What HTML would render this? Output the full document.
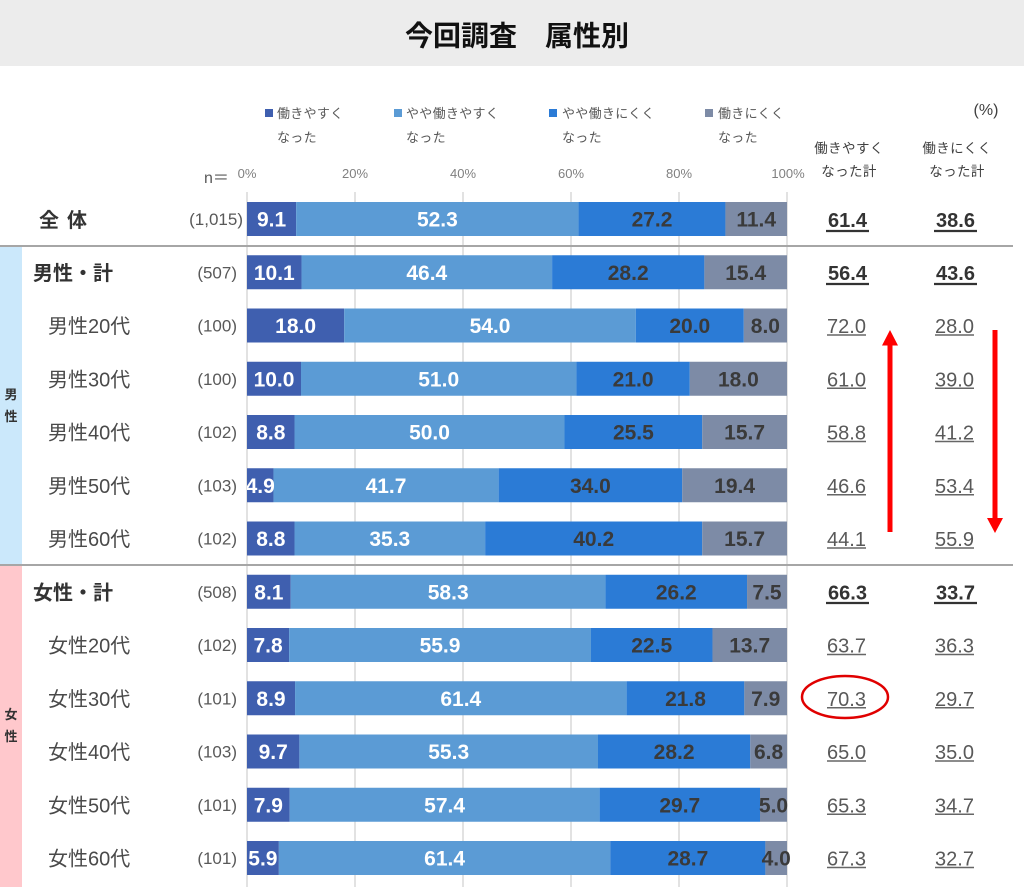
<!DOCTYPE html>
<html><head><meta charset="utf-8"><style>
html,body{margin:0;padding:0;background:#fff;}
svg{display:block;}
.cj{font-family:"Liberation Sans","Noto Sans CJK JP",sans-serif;}
.v{font-family:"Liberation Sans",sans-serif;font-weight:bold;font-size:21px;text-anchor:middle;}
.w{fill:#fff;}
.d{fill:#3a3a3a;}
.lab{font-family:"Liberation Sans","Noto Sans CJK JP",sans-serif;font-size:20px;fill:#4a4a4a;}
.labb{font-family:"Liberation Sans","Noto Sans CJK JP",sans-serif;font-size:20px;font-weight:bold;fill:#333;}
.n{font-family:"Liberation Sans","Noto Sans CJK JP",sans-serif;font-size:17px;fill:#595959;text-anchor:end;}
.r{font-family:"Liberation Sans",sans-serif;font-size:20px;fill:#595959;text-anchor:middle;}
.rb{font-family:"Liberation Sans",sans-serif;font-size:20px;font-weight:bold;fill:#333;text-anchor:middle;}
.t{font-family:"Liberation Sans",sans-serif;font-size:13px;fill:#808080;text-anchor:middle;}
.lg{font-family:"Liberation Sans","Noto Sans CJK JP",sans-serif;font-size:13px;fill:#595959;letter-spacing:0.3px;}
.hd{font-family:"Liberation Sans","Noto Sans CJK JP",sans-serif;font-size:13.5px;fill:#404040;text-anchor:middle;letter-spacing:0.4px;}
</style></head><body>
<svg width="1024" height="887" viewBox="0 0 1024 887" xmlns="http://www.w3.org/2000/svg">
<defs><clipPath id="cp"><rect x="247" y="190" width="600" height="700"/></clipPath></defs>
<!-- title band -->
<rect x="0" y="0" width="1024" height="66" fill="#ececec"/>
<text x="517" y="45.5" class="cj" font-size="28" font-weight="bold" text-anchor="middle" fill="#111">今回調査　属性別</text>

<!-- legend -->
<rect x="265" y="109" width="8" height="8" fill="#3f5faf"/>
<text x="277" y="118" class="lg">働きやすく</text>
<text x="277" y="142" class="lg">なった</text>
<rect x="394" y="109" width="8" height="8" fill="#5b9bd5"/>
<text x="406" y="118" class="lg">やや働きやすく</text>
<text x="406" y="142" class="lg">なった</text>
<rect x="549" y="109" width="8" height="8" fill="#2b7bd6"/>
<text x="562" y="118" class="lg">やや働きにくく</text>
<text x="562" y="142" class="lg">なった</text>
<rect x="705" y="109" width="8" height="8" fill="#7d8ba6"/>
<text x="718" y="118" class="lg">働きにくく</text>
<text x="718" y="142" class="lg">なった</text>

<text x="986" y="115" font-family="Liberation Sans,sans-serif" font-size="16" fill="#404040" text-anchor="middle">(%)</text>
<text x="849" y="153" class="hd">働きやすく</text>
<text x="849" y="176" class="hd">なった計</text>
<text x="957" y="153" class="hd">働きにくく</text>
<text x="957" y="176" class="hd">なった計</text>

<!-- ticks -->
<text x="204" y="183" class="cj" font-size="16" fill="#595959">n＝</text>
<text x="247" y="178" class="t">0%</text>
<text x="355" y="178" class="t">20%</text>
<text x="463" y="178" class="t">40%</text>
<text x="571" y="178" class="t">60%</text>
<text x="679" y="178" class="t">80%</text>
<text x="788" y="178" class="t">100%</text>

<!-- side bands -->
<rect x="0" y="247" width="22" height="317" fill="#cbe8fb"/>
<rect x="0" y="566" width="22" height="321" fill="#ffc8cc"/>
<text x="11" y="399" class="cj" font-size="13" font-weight="bold" fill="#333" text-anchor="middle">男</text>
<text x="11" y="421" class="cj" font-size="13" font-weight="bold" fill="#333" text-anchor="middle">性</text>
<text x="11" y="719" class="cj" font-size="13" font-weight="bold" fill="#333" text-anchor="middle">女</text>
<text x="11" y="741" class="cj" font-size="13" font-weight="bold" fill="#333" text-anchor="middle">性</text>

<!-- grid -->
<g stroke="#d9d9d9" stroke-width="1.5">
<line x1="247" y1="192" x2="247" y2="887"/>
<line x1="355" y1="192" x2="355" y2="887"/>
<line x1="463" y1="192" x2="463" y2="887"/>
<line x1="571" y1="192" x2="571" y2="887"/>
<line x1="679" y1="192" x2="679" y2="887"/>
<line x1="787" y1="192" x2="787" y2="887"/>
</g>
<g stroke="#a6a6a6" stroke-width="2">
<line x1="0" y1="246" x2="1013" y2="246"/>
<line x1="0" y1="565" x2="1013" y2="565"/>
</g>

<!-- bars -->
<g>
<!-- row0 top 202 -->
<rect x="247" y="202" width="49.14" height="34" fill="#3f5faf"/>
<rect x="296.14" y="202" width="282.42" height="34" fill="#5b9bd5"/>
<rect x="578.56" y="202" width="146.88" height="34" fill="#2b7bd6"/>
<rect x="725.44" y="202" width="61.56" height="34" fill="#7d8ba6"/>
<!-- row1 -->
<rect x="247" y="255.25" width="54.54" height="34" fill="#3f5faf"/>
<rect x="301.54" y="255.25" width="250.56" height="34" fill="#5b9bd5"/>
<rect x="552.1" y="255.25" width="152.28" height="34" fill="#2b7bd6"/>
<rect x="704.38" y="255.25" width="82.62" height="34" fill="#7d8ba6"/>
<!-- row2 -->
<rect x="247" y="308.5" width="97.2" height="34" fill="#3f5faf"/>
<rect x="344.2" y="308.5" width="291.6" height="34" fill="#5b9bd5"/>
<rect x="635.8" y="308.5" width="108" height="34" fill="#2b7bd6"/>
<rect x="743.8" y="308.5" width="43.2" height="34" fill="#7d8ba6"/>
<!-- row3 -->
<rect x="247" y="361.75" width="54" height="34" fill="#3f5faf"/>
<rect x="301" y="361.75" width="275.4" height="34" fill="#5b9bd5"/>
<rect x="576.4" y="361.75" width="113.4" height="34" fill="#2b7bd6"/>
<rect x="689.8" y="361.75" width="97.2" height="34" fill="#7d8ba6"/>
<!-- row4 -->
<rect x="247" y="415" width="47.52" height="34" fill="#3f5faf"/>
<rect x="294.52" y="415" width="270" height="34" fill="#5b9bd5"/>
<rect x="564.52" y="415" width="137.7" height="34" fill="#2b7bd6"/>
<rect x="702.22" y="415" width="84.78" height="34" fill="#7d8ba6"/>
<!-- row5 -->
<rect x="247" y="468.25" width="26.46" height="34" fill="#3f5faf"/>
<rect x="273.46" y="468.25" width="225.18" height="34" fill="#5b9bd5"/>
<rect x="498.64" y="468.25" width="183.6" height="34" fill="#2b7bd6"/>
<rect x="682.24" y="468.25" width="104.76" height="34" fill="#7d8ba6"/>
<!-- row6 -->
<rect x="247" y="521.5" width="47.52" height="34" fill="#3f5faf"/>
<rect x="294.52" y="521.5" width="190.62" height="34" fill="#5b9bd5"/>
<rect x="485.14" y="521.5" width="217.08" height="34" fill="#2b7bd6"/>
<rect x="702.22" y="521.5" width="84.78" height="34" fill="#7d8ba6"/>
<!-- row7 -->
<rect x="247" y="574.75" width="43.74" height="34" fill="#3f5faf"/>
<rect x="290.74" y="574.75" width="314.82" height="34" fill="#5b9bd5"/>
<rect x="605.56" y="574.75" width="141.48" height="34" fill="#2b7bd6"/>
<rect x="747.04" y="574.75" width="39.96" height="34" fill="#7d8ba6"/>
<!-- row8 -->
<rect x="247" y="628" width="42.12" height="34" fill="#3f5faf"/>
<rect x="289.12" y="628" width="301.86" height="34" fill="#5b9bd5"/>
<rect x="590.98" y="628" width="121.5" height="34" fill="#2b7bd6"/>
<rect x="712.48" y="628" width="74.52" height="34" fill="#7d8ba6"/>
<!-- row9 -->
<rect x="247" y="681.25" width="48.06" height="34" fill="#3f5faf"/>
<rect x="295.06" y="681.25" width="331.56" height="34" fill="#5b9bd5"/>
<rect x="626.62" y="681.25" width="117.72" height="34" fill="#2b7bd6"/>
<rect x="744.34" y="681.25" width="42.66" height="34" fill="#7d8ba6"/>
<!-- row10 -->
<rect x="247" y="734.5" width="52.38" height="34" fill="#3f5faf"/>
<rect x="299.38" y="734.5" width="298.62" height="34" fill="#5b9bd5"/>
<rect x="598" y="734.5" width="152.28" height="34" fill="#2b7bd6"/>
<rect x="750.28" y="734.5" width="36.72" height="34" fill="#7d8ba6"/>
<!-- row11 -->
<rect x="247" y="787.75" width="42.66" height="34" fill="#3f5faf"/>
<rect x="289.66" y="787.75" width="309.96" height="34" fill="#5b9bd5"/>
<rect x="599.62" y="787.75" width="160.38" height="34" fill="#2b7bd6"/>
<rect x="760" y="787.75" width="27" height="34" fill="#7d8ba6"/>
<!-- row12 -->
<rect x="247" y="841" width="31.86" height="34" fill="#3f5faf"/>
<rect x="278.86" y="841" width="331.56" height="34" fill="#5b9bd5"/>
<rect x="610.42" y="841" width="154.98" height="34" fill="#2b7bd6"/>
<rect x="765.4" y="841" width="21.6" height="34" fill="#7d8ba6"/>
</g>

<!-- bar values -->
<g clip-path="url(#cp)">
<text class="v w" x="271.6" y="226.5">9.1</text><text class="v w" x="437.4" y="226.5">52.3</text><text class="v d" x="652" y="226.5">27.2</text><text class="v d" x="756.2" y="226.5">11.4</text>
<text class="v w" x="274.3" y="279.75">10.1</text><text class="v w" x="426.8" y="279.75">46.4</text><text class="v d" x="628.2" y="279.75">28.2</text><text class="v d" x="745.7" y="279.75">15.4</text>
<text class="v w" x="295.6" y="333">18.0</text><text class="v w" x="490" y="333">54.0</text><text class="v d" x="689.8" y="333">20.0</text><text class="v d" x="765.4" y="333">8.0</text>
<text class="v w" x="274" y="386.25">10.0</text><text class="v w" x="438.7" y="386.25">51.0</text><text class="v d" x="633.1" y="386.25">21.0</text><text class="v d" x="738.4" y="386.25">18.0</text>
<text class="v w" x="270.8" y="439.5">8.8</text><text class="v w" x="429.5" y="439.5">50.0</text><text class="v d" x="633.4" y="439.5">25.5</text><text class="v d" x="744.6" y="439.5">15.7</text>
<text class="v w" x="260.2" y="492.75">4.9</text><text class="v w" x="386" y="492.75">41.7</text><text class="v d" x="590.4" y="492.75">34.0</text><text class="v d" x="734.6" y="492.75">19.4</text>
<text class="v w" x="270.8" y="546">8.8</text><text class="v w" x="389.8" y="546">35.3</text><text class="v d" x="593.7" y="546">40.2</text><text class="v d" x="744.6" y="546">15.7</text>
<text class="v w" x="268.9" y="599.25">8.1</text><text class="v w" x="448.2" y="599.25">58.3</text><text class="v d" x="676.3" y="599.25">26.2</text><text class="v d" x="767" y="599.25">7.5</text>
<text class="v w" x="268.1" y="652.5">7.8</text><text class="v w" x="440" y="652.5">55.9</text><text class="v d" x="651.7" y="652.5">22.5</text><text class="v d" x="749.7" y="652.5">13.7</text>
<text class="v w" x="271" y="705.75">8.9</text><text class="v w" x="460.8" y="705.75">61.4</text><text class="v d" x="685.5" y="705.75">21.8</text><text class="v d" x="765.7" y="705.75">7.9</text>
<text class="v w" x="273.2" y="759">9.7</text><text class="v w" x="448.7" y="759">55.3</text><text class="v d" x="674.1" y="759">28.2</text><text class="v d" x="768.6" y="759">6.8</text>
<text class="v w" x="268.3" y="812.25">7.9</text><text class="v w" x="444.6" y="812.25">57.4</text><text class="v d" x="679.8" y="812.25">29.7</text><text class="v d" x="773.5" y="812.25">5.0</text>
<text class="v w" x="262.9" y="865.5">5.9</text><text class="v w" x="444.6" y="865.5">61.4</text><text class="v d" x="687.9" y="865.5">28.7</text><text class="v d" x="776.2" y="865.5">4.0</text>
</g>

<!-- left labels -->
<text class="labb" x="39" y="227" font-size="22">全</text>
<text class="labb" x="67" y="227" font-size="22">体</text>
<text class="labb" x="33" y="279.9">男性・計</text>
<text class="lab" x="48" y="333.1">男性20代</text>
<text class="lab" x="48" y="386.4">男性30代</text>
<text class="lab" x="48" y="439.6">男性40代</text>
<text class="lab" x="48" y="492.9">男性50代</text>
<text class="lab" x="48" y="546.1">男性60代</text>
<text class="labb" x="33" y="599.4">女性・計</text>
<text class="lab" x="48" y="652.6">女性20代</text>
<text class="lab" x="48" y="705.9">女性30代</text>
<text class="lab" x="48" y="759.1">女性40代</text>
<text class="lab" x="48" y="812.4">女性50代</text>
<text class="lab" x="48" y="865.6">女性60代</text>

<!-- n values -->
<text class="n" x="243" y="225.2">(1,015)</text>
<text class="n" x="237" y="278.4">(507)</text>
<text class="n" x="237" y="331.7">(100)</text>
<text class="n" x="237" y="384.9">(100)</text>
<text class="n" x="237" y="438.2">(102)</text>
<text class="n" x="237" y="491.4">(103)</text>
<text class="n" x="237" y="544.7">(102)</text>
<text class="n" x="237" y="597.9">(508)</text>
<text class="n" x="237" y="651.2">(102)</text>
<text class="n" x="237" y="704.4">(101)</text>
<text class="n" x="237" y="757.7">(103)</text>
<text class="n" x="237" y="810.9">(101)</text>
<text class="n" x="237" y="864.2">(101)</text>

<!-- right totals -->
<text class="rb" x="847.5" y="227">61.4</text><text class="rb" x="955.5" y="227">38.6</text>
<text class="rb" x="847.5" y="280.2">56.4</text><text class="rb" x="955.5" y="280.2">43.6</text>
<text class="r" x="846.5" y="333.2">72.0</text><text class="r" x="954.5" y="333.2">28.0</text>
<text class="r" x="846.5" y="386.5">61.0</text><text class="r" x="954.5" y="386.5">39.0</text>
<text class="r" x="846.5" y="439.7">58.8</text><text class="r" x="954.5" y="439.7">41.2</text>
<text class="r" x="846.5" y="493">46.6</text><text class="r" x="954.5" y="493">53.4</text>
<text class="r" x="846.5" y="546.2">44.1</text><text class="r" x="954.5" y="546.2">55.9</text>
<text class="rb" x="847.5" y="599.5">66.3</text><text class="rb" x="955.5" y="599.5">33.7</text>
<text class="r" x="846.5" y="652.7">63.7</text><text class="r" x="954.5" y="652.7">36.3</text>
<text class="r" x="846.5" y="706">70.3</text><text class="r" x="954.5" y="706">29.7</text>
<text class="r" x="846.5" y="759.2">65.0</text><text class="r" x="954.5" y="759.2">35.0</text>
<text class="r" x="846.5" y="812.5">65.3</text><text class="r" x="954.5" y="812.5">34.7</text>
<text class="r" x="846.5" y="865.7">67.3</text><text class="r" x="954.5" y="865.7">32.7</text>

<!-- underlines -->
<g stroke="#333" stroke-width="2.2">
<line x1="826" y1="231" x2="869" y2="231"/><line x1="934" y1="231" x2="977" y2="231"/>
<line x1="826" y1="284" x2="869" y2="284"/><line x1="934" y1="284" x2="977" y2="284"/>
<line x1="826" y1="603" x2="869" y2="603"/><line x1="934" y1="603" x2="977" y2="603"/>
</g>
<g stroke="#666" stroke-width="1.5">
<line x1="827" y1="335" x2="866" y2="335"/><line x1="935" y1="335" x2="974" y2="335"/>
<line x1="827" y1="388.3" x2="866" y2="388.3"/><line x1="935" y1="388.3" x2="974" y2="388.3"/>
<line x1="827" y1="441.5" x2="866" y2="441.5"/><line x1="935" y1="441.5" x2="974" y2="441.5"/>
<line x1="827" y1="494.8" x2="866" y2="494.8"/><line x1="935" y1="494.8" x2="974" y2="494.8"/>
<line x1="827" y1="548" x2="866" y2="548"/><line x1="935" y1="548" x2="974" y2="548"/>
<line x1="827" y1="654.5" x2="866" y2="654.5"/><line x1="935" y1="654.5" x2="974" y2="654.5"/>
<line x1="827" y1="707.8" x2="866" y2="707.8"/><line x1="935" y1="707.8" x2="974" y2="707.8"/>
<line x1="827" y1="761" x2="866" y2="761"/><line x1="935" y1="761" x2="974" y2="761"/>
<line x1="827" y1="814.3" x2="866" y2="814.3"/><line x1="935" y1="814.3" x2="974" y2="814.3"/>
<line x1="827" y1="867.5" x2="866" y2="867.5"/><line x1="935" y1="867.5" x2="974" y2="867.5"/>
</g>

<!-- red annotations -->
<rect x="887.5" y="343" width="5" height="189" fill="#ff0000"/>
<polygon points="882,345.5 898,345.5 890,330" fill="#ff0000"/>
<rect x="992.5" y="330" width="5" height="190" fill="#ff0000"/>
<polygon points="987,518 1003,518 995,533" fill="#ff0000"/>
<ellipse cx="845" cy="697" rx="43" ry="21" fill="none" stroke="#e00000" stroke-width="2.5"/>
</svg>
</body></html>
